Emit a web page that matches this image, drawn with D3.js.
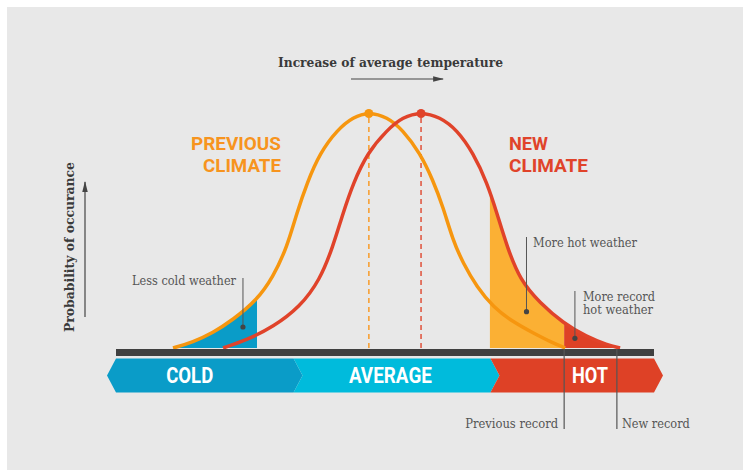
<!DOCTYPE html>
<html>
<head>
<meta charset="utf-8">
<script src="https://cdn.jsdelivr.net/npm/d3@7"></script>
<style>
  body { margin: 0; background: #ffffff; }
  .note { font-family: "DejaVu Serif", serif; font-size: 13px; fill: #555555; }
  .title { font-family: "DejaVu Serif", serif; font-weight: bold; font-size: 13px; fill: #3a3a3a; }
  .big { font-family: Roboto, "Noto Sans", sans-serif; font-weight: bold; font-size: 18.5px; }
  .band-label { font-family: Roboto, "Noto Sans", sans-serif; font-weight: bold; font-size: 22px; fill: #ffffff; }
</style>
</head>
<body>
<script>
// curves: temperature (0-100 along the bar) vs relative probability
var previousClimate = [[10.6,0],[14.3,0.025],[18.0,0.064],[21.7,0.119],[26.2,0.203],[29.2,0.301],
  [31.8,0.428],[33.6,0.572],[35.5,0.699],[37.9,0.826],[41.1,0.924],[44.1,0.979],[47.0,1],
  [50.4,0.979],[53.3,0.924],[56.5,0.826],[58.9,0.712],[60.8,0.597],[62.6,0.458],[64.5,0.360],
  [67.1,0.258],[70.1,0.174],[73.8,0.110],[77.5,0.064],[81.2,0.021],[83.5,0]];

var newClimate = [[19.9,0],[24.3,0.034],[29.2,0.089],[34.2,0.174],[37.9,0.288],[40.3,0.428],
  [42.2,0.572],[44.1,0.699],[46.7,0.826],[50.4,0.924],[53.3,0.979],[56.7,1],[60.2,0.979],
  [63.4,0.924],[66.4,0.826],[69.0,0.699],[70.8,0.572],[72.7,0.428],[75.1,0.288],[78.8,0.191],
  [83.1,0.106],[87.5,0.047],[91.3,0.013],[93.7,0]];

var previousPeak = [47.0, 1];
var newPeak = [56.7, 1];

var bands = ["COLD", "AVERAGE", "HOT"];
var bandEdges = [0, 33, 69.6, 100];
var bandLabelAt = [13.7, 51.0, 88.1];

var lessColdTo = 26.2;
var moreHotFrom = 69.5;
var previousRecord = 83.3;
var newRecord = 93.1;

var width = 743, height = 470;

var svg = d3.select("body")
            .append("svg")
            .attr("width", width)
            .attr("height", height);

svg.append("rect")
   .attr("x", 7).attr("y", 7)
   .attr("width", width - 7).attr("height", height - 7)
   .attr("fill", "#e8e8e8");

var x = d3.scaleLinear().domain([0, 100]).range([116, 654]);
var y = d3.scaleLinear().domain([0, 1]).range([348, 112]);

var line = d3.line()
             .x(function(d) {return x(d[0]);})
             .y(function(d) {return y(d[1]);})
             .curve(d3.curveBasis);

var area = d3.area()
             .x(function(d) {return x(d[0]);})
             .y0(y(0))
             .y1(function(d) {return y(d[1]);})
             .curve(d3.curveBasis);

// clip paths for the shaded tails
var defs = svg.append("defs");
var clips = [["clip-cold", 0, lessColdTo], ["clip-hot", moreHotFrom, previousRecord], ["clip-record", previousRecord, newRecord + 2]];
clips.forEach(function(c) {
  defs.append("clipPath").attr("id", c[0])
      .append("rect")
      .attr("x", x(c[1])).attr("y", 0)
      .attr("width", x(c[2]) - x(c[1])).attr("height", y(0));
});

svg.append("path").datum(previousClimate).attr("d", area)
   .attr("fill", "#0a9cc8").attr("clip-path", "url(#clip-cold)");
svg.append("path").datum(newClimate).attr("d", area)
   .attr("fill", "#fbb034").attr("clip-path", "url(#clip-hot)");
svg.append("path").datum(newClimate).attr("d", area)
   .attr("fill", "#de4126").attr("clip-path", "url(#clip-record)");

// dashed lines down from the peaks
[[previousPeak, "#f7a035"], [newPeak, "#e05a45"]].forEach(function(p) {
  svg.append("line")
     .attr("x1", x(p[0][0])).attr("x2", x(p[0][0]))
     .attr("y1", y(p[0][1]) + 6).attr("y2", y(0))
     .attr("stroke", p[1]).attr("stroke-width", 1.6)
     .attr("stroke-dasharray", "5,4");
});

// the two curves
svg.append("path").datum(previousClimate).attr("d", line)
   .attr("fill", "none").attr("stroke", "#f6960f").attr("stroke-width", 3.5);
svg.append("path").datum(newClimate).attr("d", line)
   .attr("fill", "none").attr("stroke", "#e0432a").attr("stroke-width", 3.5);

svg.append("circle").attr("cx", x(previousPeak[0])).attr("cy", y(previousPeak[1]) + 1.5).attr("r", 4.5).attr("fill", "#f6960f");
svg.append("circle").attr("cx", x(newPeak[0])).attr("cy", y(newPeak[1]) + 1.5).attr("r", 4.5).attr("fill", "#e0432a");

// dark baseline
svg.append("rect")
   .attr("x", x(0)).attr("y", y(0) + 1)
   .attr("width", x(100) - x(0)).attr("height", 7)
   .attr("fill", "#404040");

// band of arrows
var bandTop = 358.5, bandBottom = 392.5, bandMid = (bandTop + bandBottom) / 2, tip = 9;
var bandColors = ["#0a9cc8", "#00bbdc", "#de4126"];

bands.forEach(function(b, i) {
  var x0 = x(bandEdges[i]), x1 = x(bandEdges[i + 1]);
  var left = i == 0 ? x0 - tip : x0 + tip;
  var pts = [[x0, bandTop], [x1, bandTop], [x1 + tip, bandMid], [x1, bandBottom], [x0, bandBottom], [left, bandMid]];
  svg.append("polygon")
     .attr("points", pts.map(function(p) {return p.join(",");}).join(" "))
     .attr("fill", bandColors[i]);
});

var labelWidths = [47, 83, 36];
svg.selectAll(".band-label")
   .data(bands)
   .enter()
   .append("text")
   .attr("class", "band-label")
   .attr("x", function(d, i) {return x(bandLabelAt[i]);})
   .attr("y", 383)
   .attr("text-anchor", "middle")
   .attr("textLength", function(d, i) {return labelWidths[i];})
   .attr("lengthAdjust", "spacingAndGlyphs")
   .text(function(d) {return d;});

// record markers
[previousRecord, newRecord].forEach(function(r) {
  svg.append("line")
     .attr("x1", x(r)).attr("x2", x(r))
     .attr("y1", y(0) + 1).attr("y2", 429)
     .attr("stroke", "#555555").attr("stroke-width", 1.2);
});

svg.append("text").attr("class", "note")
   .attr("x", x(previousRecord) - 6).attr("y", 427.5)
   .attr("text-anchor", "end")
   .attr("textLength", 93).attr("lengthAdjust", "spacingAndGlyphs")
   .text("Previous record");
svg.append("text").attr("class", "note")
   .attr("x", x(newRecord) + 5).attr("y", 427.5)
   .attr("textLength", 68).attr("lengthAdjust", "spacingAndGlyphs")
   .text("New record");

// leader notes
var pointer = function(px, top, dot) {
  svg.append("line")
     .attr("x1", x(px)).attr("x2", x(px))
     .attr("y1", top).attr("y2", y(dot))
     .attr("stroke", "#555555").attr("stroke-width", 1);
  svg.append("circle").attr("cx", x(px)).attr("cy", y(dot)).attr("r", 2.6).attr("fill", "#444444");
};

pointer(23.6, 278, 0.089);
svg.append("text").attr("class", "note")
   .attr("x", 236).attr("y", 284.5).attr("text-anchor", "end")
   .attr("textLength", 104).attr("lengthAdjust", "spacingAndGlyphs")
   .text("Less cold weather");

pointer(76.3, 237, 0.154);
svg.append("text").attr("class", "note")
   .attr("x", 533).attr("y", 247)
   .attr("textLength", 104).attr("lengthAdjust", "spacingAndGlyphs")
   .text("More hot weather");

pointer(85.3, 291, 0.041);
svg.append("text").attr("class", "note")
   .attr("x", 583).attr("y", 300.5)
   .attr("textLength", 72).attr("lengthAdjust", "spacingAndGlyphs")
   .text("More record");
svg.append("text").attr("class", "note")
   .attr("x", 583).attr("y", 314)
   .attr("textLength", 70).attr("lengthAdjust", "spacingAndGlyphs")
   .text("hot weather");

// climate titles
var prevTitle = [["PREVIOUS", 150, 90], ["CLIMATE", 172, 78]];
prevTitle.forEach(function(t) {
  svg.append("text").attr("class", "big")
     .attr("x", 281).attr("y", t[1]).attr("text-anchor", "end")
     .attr("fill", "#f7941e")
     .attr("textLength", t[2]).attr("lengthAdjust", "spacingAndGlyphs")
     .text(t[0]);
});
var newTitle = [["NEW", 150, 39], ["CLIMATE", 172, 79]];
newTitle.forEach(function(t) {
  svg.append("text").attr("class", "big")
     .attr("x", 509).attr("y", t[1])
     .attr("fill", "#e0432a")
     .attr("textLength", t[2]).attr("lengthAdjust", "spacingAndGlyphs")
     .text(t[0]);
});

// axis-like titles with arrows
defs.append("marker")
    .attr("id", "head")
    .attr("viewBox", "0 0 10 10")
    .attr("refX", 9).attr("refY", 5)
    .attr("markerWidth", 11).attr("markerHeight", 11)
    .attr("markerUnits", "userSpaceOnUse")
    .attr("orient", "auto")
    .append("path")
    .attr("d", "M0,2.5L10,5L0,7.5Z")
    .attr("fill", "#444444");

svg.append("text").attr("class", "title")
   .attr("x", 390.5).attr("y", 67).attr("text-anchor", "middle")
   .attr("textLength", 225).attr("lengthAdjust", "spacingAndGlyphs")
   .text("Increase of average temperature");
svg.append("line")
   .attr("x1", 351).attr("x2", 443).attr("y1", 79).attr("y2", 79)
   .attr("stroke", "#444444").attr("stroke-width", 1.2)
   .attr("marker-end", "url(#head)");

svg.append("text").attr("class", "title")
   .attr("transform", "translate(74,247) rotate(-90)")
   .attr("text-anchor", "middle")
   .attr("textLength", 170).attr("lengthAdjust", "spacingAndGlyphs")
   .text("Probability of occurance");
svg.append("line")
   .attr("x1", 85).attr("x2", 85).attr("y1", 317).attr("y2", 182)
   .attr("stroke", "#444444").attr("stroke-width", 1.2)
   .attr("marker-end", "url(#head)");
</script>
</body>
</html>
